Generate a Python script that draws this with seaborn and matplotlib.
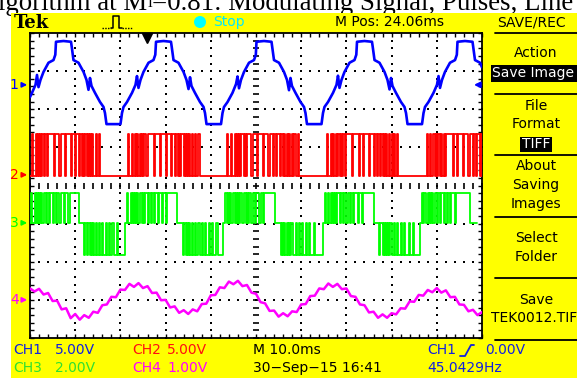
import numpy as np
import pandas as pd
import matplotlib
matplotlib.use("Agg")
import matplotlib.pyplot as plt
import seaborn as sns
from matplotlib.patches import Rectangle, Ellipse
from matplotlib.lines import Line2D

# ===================== values =====================
# CH1 - modulating signal: time (ms) and level (screen divisions)
ch1_t = [0.00, 0.44, 1.22, 1.55, 1.88, 2.32, 2.99, 4.09, 5.20, 5.60, 5.75, 7.41, 9.07, 9.23, 9.62,
         10.73, 11.84, 12.50, 12.94, 13.27, 13.61, 14.38, 15.49, 16.26, 16.59, 16.92, 20.02,
         20.35, 20.69, 21.46, 22.57, 23.34, 23.67, 24.00, 24.45, 25.11, 26.22, 27.32, 27.72, 27.88,
         29.54, 31.19, 31.35, 31.75, 32.85, 33.96, 34.62, 35.07, 35.40, 35.73, 36.50, 37.61, 38.39,
         38.72, 39.05, 42.26,
         42.59, 42.92, 43.70, 44.80, 45.58, 45.91, 46.24, 46.68, 47.35, 48.45, 49.56, 49.96, 50.11,
         51.77, 53.43, 53.58, 53.98, 55.09, 56.19, 56.86, 57.30, 57.63, 57.96, 58.74, 59.85, 60.62,
         60.95, 61.28, 64.49,
         64.82, 65.15, 65.93, 67.04, 67.81, 68.14, 68.47, 68.92, 69.58, 70.69, 71.79, 72.19, 72.35,
         74.00, 75.66, 75.82, 76.22, 77.32, 78.43, 79.09, 79.54, 79.87, 80.20, 80.97, 82.08, 82.85,
         83.19, 83.52, 86.73,
         87.06, 87.39, 88.16, 89.27, 90.04, 90.38, 90.71, 91.15, 91.81, 92.92, 94.03, 94.43, 94.58,
         96.24, 97.90, 98.05, 98.45, 99.56, 100.00]
ch1_v = [2.32, 2.43, 2.64, 2.90, 2.58, 2.77, 2.98, 3.22, 3.29, 3.43, 3.77, 3.79, 3.77, 3.64, 3.29,
         3.22, 2.98, 2.77, 2.51, 2.82, 2.61, 2.43, 2.19, 2.06, 1.90, 1.61, 1.61,
         1.90, 2.06, 2.19, 2.43, 2.64, 2.87, 2.56, 2.77, 2.98, 3.22, 3.29, 3.43, 3.77,
         3.79, 3.77, 3.64, 3.29, 3.22, 2.98, 2.77, 2.53, 2.84, 2.61, 2.43, 2.19, 2.06,
         1.90, 1.61, 1.61,
         1.90, 2.06, 2.19, 2.43, 2.66, 2.86, 2.55, 2.77, 2.98, 3.22, 3.29, 3.43, 3.77,
         3.79, 3.77, 3.64, 3.29, 3.22, 2.98, 2.77, 2.50, 2.82, 2.61, 2.43, 2.19, 2.06,
         1.90, 1.61, 1.61,
         1.90, 2.06, 2.19, 2.43, 2.64, 2.88, 2.56, 2.77, 2.98, 3.22, 3.29, 3.43, 3.77,
         3.79, 3.77, 3.64, 3.29, 3.22, 2.98, 2.77, 2.52, 2.82, 2.61, 2.43, 2.19, 2.06,
         1.90, 1.61, 1.61,
         1.90, 2.06, 2.19, 2.43, 2.64, 2.87, 2.56, 2.77, 2.98, 3.22, 3.29, 3.43, 3.77,
         3.79, 3.77, 3.64, 3.29, 3.22, 3.10]

# CH2 - gate pulses, one character per 0.25 ms sample (1 = high, 0 = low)
ch2_bits = ("001001010101011011"
            "11101111011110111101" "110110110101010101001001000" "0000000000000000000" "0001001001010101011011"
            "11110111101111011110" "110110101101010101001001000" "0000000000000000000" "0010001001010101101011"
            "11011110111101111011" "101101101101010100101001000" "0000000000000000000" "0001001010010101011011"
            "11101111101110111101" "110110110101010010101001000" "0000000000000000000" "0001001001010110101011"
            "11110111011110111101" "11011011010")

# CH3 - three-level pulses, one character per 0.25 ms sample (+ / 0 / -)
ch3_levels = ("0+00+0+0+0+0++0++0++0++0++0+++0+++0++++++++" "00000" "-0-00-0-0-0--0--0--0--0--0---0------" "00"
              "+00+0+0+0+0++0+0++0++0++0++0+++0++0+++++++++" "00000" "-00-0-0-0--0--0--0--0--0--0---0-----" "00"
              "+0+0+00+0+0+0++0++0+0++0++0+++0++0++++++++++" "00000" "-0-0-0-0-00--0--0--0--0--0---0-------" "00"
              "+00+0+0+0+0++0++0++0++0++0+++0+++0+++++++++" "00000" "-00-0-0-0-0--0--0--0--0---0---0-----" "00"
              "+0+00+0+0+0++0++0++0++0++0+++0++++++++++++" "00000" "000")

# CH4 - current, one value per 1 ms (screen divisions)
ch4_v = [-2.70, -2.78, -2.71, -2.86, -2.82, -3.03, -3.02, -3.25, -3.22, -3.48,
         -3.37, -3.52, -3.40, -3.47, -3.31, -3.34, -3.14, -3.12, -2.92, -2.93,
         -2.73, -2.74, -2.58, -2.66, -2.56, -2.69, -2.64, -2.82, -2.81, -3.01,
         -3.00, -3.20, -3.17, -3.34, -3.27, -3.37, -3.25, -3.30, -3.11, -3.10,
         -2.88, -2.87, -2.67, -2.69, -2.52, -2.59, -2.50, -2.64, -2.61, -2.81,
         -2.84, -3.06, -3.09, -3.29, -3.28, -3.44, -3.35, -3.43, -3.30, -3.32,
         -3.12, -3.11, -2.90, -2.89, -2.70, -2.72, -2.57, -2.66, -2.58, -2.72,
         -2.70, -2.90, -2.92, -3.12, -3.14, -3.33, -3.31, -3.47, -3.38, -3.47,
         -3.35, -3.38, -3.22, -3.23, -3.04, -3.05, -2.87, -2.89, -2.74, -2.80,
         -2.69, -2.81, -2.75, -2.93, -2.92, -3.12, -3.13, -3.30, -3.26, -3.40,
         -3.32]

ch2_dt = 0.25
ch3_dt = 0.25
ch4_dt = 1.0

# channel screen levels (divisions)
ch_ground = [2.64, 0.28, -0.98, -3.00]
ch2_low, ch2_high = 0.24, 1.35
ch3_map = {"+": -0.20, "0": -0.98, "-": -1.82}

ch_colors = ["#0000ff", "#ff0000", "#00ff00", "#ff00ff"]
ch_text_colors = ["#1020e0", "#ff1010", "#30e030", "#ff00ff"]

trigger_pos_ms = 25.9
title_left = "lgorithm at M"
title_sub = "i"
title_right = "=0.81: Modulating Signal, Pulses, Line"

# ===================== figure =====================
sns.set_theme(style="white")
plt.rcParams["font.family"] = ["DejaVu Sans"]

W, H = 577, 378
fig = plt.figure(figsize=(W / 100, H / 100), dpi=100)
fig.patch.set_facecolor("white")


def fx(x):
    return x / W


def fy(y):
    return 1 - y / H


# title strip (partially cut off like the source)
t1 = fig.text(fx(-2), fy(10.5), title_left, family="Liberation Serif", fontsize=19.4,
              va="baseline", ha="left", color="black", zorder=-5)
fig.canvas.draw()
rend = fig.canvas.get_renderer()
bb = t1.get_window_extent(rend)
t2 = fig.text(bb.x1 / W, fy(7), title_sub, family="Liberation Serif", fontsize=12,
              va="baseline", ha="left", color="black", zorder=-5)
bb2 = t2.get_window_extent(rend)
fig.text(bb2.x1 / W, fy(10.5), title_right, family="Liberation Serif", fontsize=19.4,
         va="baseline", ha="left", color="black", zorder=-5)

# yellow scope frame
fig.add_artist(Rectangle((fx(11), 0), 1 - fx(11), fy(13), transform=fig.transFigure,
                         facecolor="#ffff00", edgecolor="none", zorder=-1))

# ----- plot area -----
ax = fig.add_axes([fx(30), fy(338), 452 / W, 305 / H])
ax.set_facecolor("white")
ax.set_xlim(0, 100)
ax.set_ylim(-4, 4)
for sp in ax.spines.values():
    sp.set_visible(True)
    sp.set_color("black")
    sp.set_linewidth(1.3)
ax.set_xticks(np.arange(0, 101, 10))
ax.set_xticks(np.arange(0, 101, 2), minor=True)
ax.set_yticks(np.arange(-4, 5, 1))
ax.set_yticks(np.arange(-4, 4.01, 0.2), minor=True)
ax.tick_params(which="both", direction="in", length=3.2, width=1.0, color="black",
               top=True, right=True, bottom=True, left=True,
               labelbottom=False, labelleft=False, labeltop=False, labelright=False)

# graticule dots
gx, gy = [], []
for x in range(10, 100, 10):
    if x == 50:
        continue
    for y in np.arange(-4, 4.001, 0.2):
        gx.append(x); gy.append(y)
for y in range(-3, 4):
    if y == 0:
        continue
    for x in np.arange(0, 100.001, 2):
        gx.append(x); gy.append(y)
ax.plot(gx, gy, ls="none", marker="s", ms=1.5, mew=0, color="black", zorder=1)
# center cross with dashes
cy = np.arange(-4, 4.001, 0.2)
ax.plot(np.full(len(cy), 50.0), cy, ls="none", marker="_", ms=4, mew=1.2, color="black", zorder=1)
cx = np.arange(0, 100.001, 2)
ax.plot(cx, np.zeros(len(cx)), ls="none", marker="|", ms=4, mew=1.2, color="black", zorder=1)

# ----- traces -----
t2_ = np.arange(len(ch2_bits)) * ch2_dt
y2_ = [ch2_high if b == "1" else ch2_low for b in ch2_bits]
t3_ = np.arange(len(ch3_levels)) * ch3_dt
y3_ = [ch3_map[c] for c in ch3_levels]
t4_ = np.arange(len(ch4_v)) * ch4_dt

sns.lineplot(x=t2_, y=y2_, ax=ax, color=ch_colors[1], linewidth=1.3, estimator=None,
             sort=False, legend=False, drawstyle="steps-post", zorder=3)
sns.lineplot(x=t3_, y=y3_, ax=ax, color=ch_colors[2], linewidth=1.3, estimator=None,
             sort=False, legend=False, drawstyle="steps-post", zorder=3)
sns.lineplot(x=ch1_t, y=ch1_v, ax=ax, color=ch_colors[0], linewidth=1.9, estimator=None,
             sort=False, legend=False, zorder=4)
sns.lineplot(x=t4_, y=ch4_v, ax=ax, color=ch_colors[3], linewidth=1.8, estimator=None,
             sort=False, legend=False, zorder=4)
ax.set_xlabel("")
ax.set_ylabel("")

# trigger position marker (top) and trigger level arrow (right)
ax.plot([trigger_pos_ms], [3.86], marker="v", ms=7, color="black", ls="none", clip_on=False, zorder=6)
ax.annotate("", xy=(97.6, ch_ground[0]), xytext=(100.2, ch_ground[0]),
            arrowprops=dict(arrowstyle="-|>", color=ch_colors[0], lw=1.5, mutation_scale=8),
            annotation_clip=False, zorder=6)

# channel ground markers on the left
for i, g in enumerate(ch_ground):
    ax.annotate("", xy=(0.0, g), xytext=(-2.3, g),
                arrowprops=dict(arrowstyle="-|>", color=ch_colors[i], lw=1.3, mutation_scale=7),
                annotation_clip=False)
    ax.text(-2.5, g, str(i + 1), color=ch_colors[i], fontsize=10, ha="right", va="center",
            clip_on=False)


# ----- header -----
def ftxt(x, y, s, **kw):
    kw.setdefault("va", "center")
    kw.setdefault("ha", "left")
    kw.setdefault("fontsize", 10)
    return fig.text(fx(x), fy(y), s, **kw)


ftxt(14, 23, "Tek", family="DejaVu Serif", fontweight="bold", fontsize=13, color="black")
# trigger icon
fig.add_artist(Line2D([fx(102), fx(111)], [fy(28), fy(28)], transform=fig.transFigure,
                      color="black", lw=1.0, ls=(0, (1, 1))))
fig.add_artist(Line2D([fx(111), fx(113), fx(113), fx(119), fx(119), fx(122)],
                      [fy(28), fy(28), fy(16), fy(16), fy(28), fy(28)],
                      transform=fig.transFigure, color="black", lw=1.1))
fig.add_artist(Line2D([fx(122), fx(133)], [fy(28), fy(28)], transform=fig.transFigure,
                      color="black", lw=1.0, ls=(0, (1, 1))))
fig.add_artist(Ellipse((fx(200), fy(22)), 12 / W, 12 / H, transform=fig.transFigure,
                       facecolor="#00ffff", edgecolor="none"))
ftxt(213, 22, "Stop", color="#00e8ff")
ftxt(335, 22, "M Pos: 24.06ms", color="black")
ftxt(497, 22, "SAVE/REC", color="black")

# ----- menu -----
for yl in [33, 94, 155, 217, 278, 340]:
    fig.add_artist(Line2D([fx(495), 1.0], [fy(yl), fy(yl)], transform=fig.transFigure,
                          color="black", lw=1.3))
fig.add_artist(Rectangle((fx(491), fy(82)), (577 - 491) / W, 17 / H, transform=fig.transFigure,
                         facecolor="black", edgecolor="none"))
fig.add_artist(Rectangle((fx(520), fy(152)), 32 / W, 15 / H, transform=fig.transFigure,
                         facecolor="black", edgecolor="none"))
menu_items = [("Action", 53, "black"), ("File", 106, "black"), ("Format", 124, "black"),
              ("TIFF", 144, "white"), ("About", 166, "black"), ("Saving", 185, "black"),
              ("Images", 204, "black"), ("Select", 238, "black"), ("Folder", 257, "black"),
              ("Save", 300, "black")]
for s, y, c in menu_items:
    ftxt(536, y, s, ha="center", color=c)
ftxt(492, 73, "Save Image", color="white")
ftxt(491, 318, "TEK0012.TIF", color="black")

# ----- bottom status -----
ftxt(13, 350, "CH1", color=ch_text_colors[0])
ftxt(55, 350, "5.00V", color=ch_text_colors[0])
ftxt(132, 350, "CH2", color=ch_text_colors[1])
ftxt(167, 350, "5.00V", color=ch_text_colors[1])
ftxt(253, 350, "M 10.0ms", color="black")
ftxt(427, 350, "CH1", color=ch_text_colors[0])
fig.add_artist(Line2D([fx(460), fx(465), fx(471), fx(474)], [fy(356), fy(356), fy(345), fy(345)],
                      transform=fig.transFigure, color=ch_text_colors[0], lw=1.3))
ftxt(485, 350, "0.00V", color=ch_text_colors[0])
ftxt(13, 368, "CH3", color=ch_text_colors[2])
ftxt(55, 368, "2.00V", color=ch_text_colors[2])
ftxt(132, 368, "CH4", color=ch_text_colors[3])
ftxt(167, 368, "1.00V", color=ch_text_colors[3])
ftxt(253, 368, "30\u2212Sep\u221215 16:41", color="black")
ftxt(427, 368, "45.0429Hz", color=ch_text_colors[0])

fig.savefig("out.png", dpi=100, facecolor=fig.get_facecolor())
